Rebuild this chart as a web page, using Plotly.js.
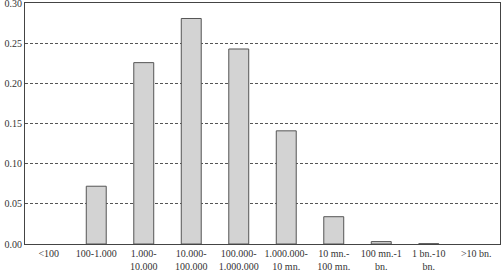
<!DOCTYPE html>
<html><head><meta charset="utf-8">
<script src="https://cdn.plot.ly/plotly-3.0.1.min.js"></script>
<style>html,body{margin:0;padding:0;background:#fff}#c{width:501px;height:274px}</style>
</head><body><div id="c"></div>
<script>
const categories = ["<100","100-1.000","1.000-<br>10.000","10.000-<br>100.000","100.000-<br>1.000.000","1.000.000-<br>10 mn.","10 mn.-<br>100 mn.","100 mn.-1<br>bn.","1 bn.-10<br>bn.",">10 bn."];
const values = [0, 0.072, 0.226, 0.281, 0.243, 0.141, 0.034, 0.003, 0.0004, 0];
const yTicks = [0, 0.05, 0.10, 0.15, 0.20, 0.25, 0.30];

Plotly.newPlot('c', [{
  type: 'bar', x: categories, y: values,
  marker: {color: '#d3d3d3', line: {color: '#555', width: values.map(v => v > 0 ? 1 : 0)}},
  hoverinfo: 'none'
}], {
  width: 501, height: 274,
  margin: {l: 25, r: 1, t: 3, b: 30},
  paper_bgcolor: '#fff', plot_bgcolor: '#fff',
  bargap: 0.58,
  showlegend: false,
  font: {family: '"Liberation Serif", "DejaVu Serif", serif', size: 10, color: '#333'},
  xaxis: {showgrid: false, showline: true, linecolor: '#444', linewidth: 1, mirror: true, ticks: '', tickangle: 0, tickfont: {size: 10}, fixedrange: true},
  yaxis: {range: [0, 0.3003], tickvals: yTicks, tickformat: '.2f', showgrid: true, gridcolor: '#555', griddash: '3px,2px', gridwidth: 1, showline: true, linecolor: '#444', linewidth: 1, mirror: true, ticks: '', zeroline: false, tickfont: {size: 10}, ticklabeloverflow: 'allow', fixedrange: true}
}, {staticPlot: true});
</script></body></html>
